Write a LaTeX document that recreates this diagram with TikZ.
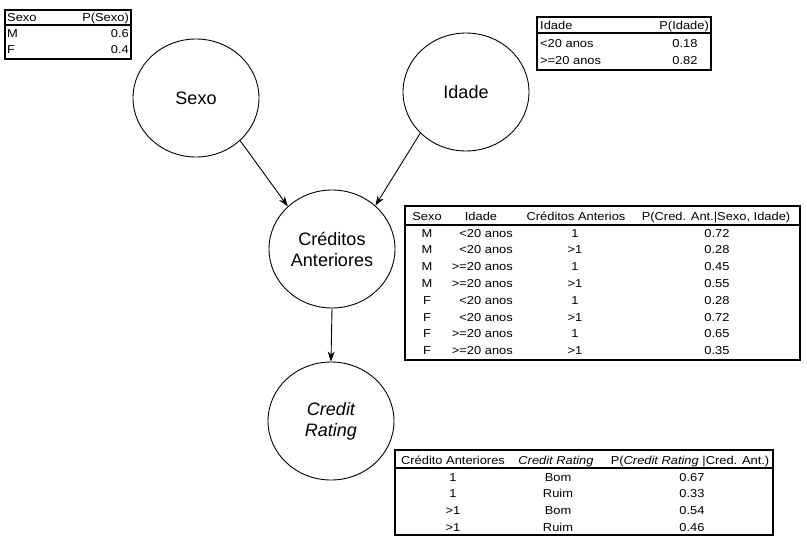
\documentclass[tikz,border=0pt]{standalone}
\usepackage{fontspec}
\setmainfont{Liberation Sans}
\newfontfamily\tabfont[FakeStretch=1.12]{Liberation Sans}
\usetikzlibrary{shapes.geometric,arrows.meta}
\begin{document}
\begin{tikzpicture}[x=1pt,y=-1pt,
  bnode/.style={draw,ellipse,line width=0.9pt,minimum width=126pt,minimum height=118pt,inner sep=0pt,align=center,font=\fontsize{18}{21}\selectfont},
  tbox/.style={draw,line width=1.6pt},
  sepline/.style={line width=2.4pt},
  tt/.style={font=\tabfont\fontsize{11.5}{13}\selectfont,inner sep=0pt,anchor=base},
  ttl/.style={tt,anchor=base west},
  ttr/.style={tt,anchor=base east},
  arr/.style={-{Stealth[length=10pt,width=7pt]},line width=0.9pt}]
\useasboundingbox (0,0) rectangle (807,549);

% nodes
\node[bnode] (sexo) at (196,98) {Sexo};
\node[bnode] (idade) at (466,92) {Idade};
\node[bnode] (cred) at (332,249) {Créditos\\Anteriores};
\node[bnode] (cr) at (331,421) {\itshape Credit\\\itshape Rating};

\draw[arr] (sexo.-44) -- (cred.136);
\draw[arr] (idade.-138) -- (cred.45);
\draw[arr] (cred.south) -- (cr.north);

% table 1
\draw[tbox] (5,10) rectangle (131,59);
\draw[sepline] (5,25) -- (131,25);
\node[ttl] (t1h1) at (7,21) {Sexo};
\node[ttr] (t1h2) at (129,21) {P(Sexo)};
\node[ttl] (t1a1) at (7,37.5) {M};
\node[ttr] (t1a2) at (129,37.5) {0.6};
\node[ttl] (t1b1) at (7,53) {F};
\node[ttr] (t1b2) at (129,53) {0.4};

% table 2
\draw[tbox] (537,17) rectangle (711,70);
\draw[sepline] (537,33) -- (711,33);
\node[ttl] (t2h1) at (540,29) {Idade};
\node[ttr] (t2h2) at (709,29) {P(Idade)};
\node[ttl] (t2a1) at (540,47.5) {<20 anos};
\node[tt] (t2a2) at (685,47.5) {0.18};
\node[ttl] (t2b1) at (540,64.5) {>=20 anos};
\node[tt] (t2b2) at (685,64.5) {0.82};

% table 3
\draw[tbox] (405,206) rectangle (800,360);
\draw[sepline] (405,225) -- (800,225);
\node[tt] (t3h1) at (427,220) {Sexo};
\node[tt] (t3h2) at (481,220) {Idade};
\node[tt] (t3h3) at (576,220) {Créditos Anterios};
\node[tt] (t3h4) at (716,220) {P(Cred. Ant.|Sexo, Idade)};
\foreach \s/\i/\c/\p [count=\k from 0] in {M/<20 anos/1/0.72, M/<20 anos/>1/0.28, M/>=20 anos/1/0.45, M/>=20 anos/>1/0.55, F/<20 anos/1/0.28, F/<20 anos/>1/0.72, F/>=20 anos/1/0.65, F/>=20 anos/>1/0.35}{
  \node[tt] (t3s\k) at (427,237+16.8*\k) {\s};
  \node[ttr] (t3i\k) at (513,237+16.8*\k) {\i};
  \node[tt] (t3c\k) at (575,237+16.8*\k) {\c};
  \node[tt] (t3p\k) at (717,237+16.8*\k) {\p};
}

% table 4
\draw[tbox] (395,450) rectangle (773,535);
\draw[sepline] (395,468) -- (773,468);
\node[tt] (t4h1) at (453,464) {Crédito Anteriores};
\node[tt] (t4h2) at (556,464) {\itshape Credit Rating};
\node[tt] (t4h3) at (690,464) {P(\textit{Credit Rating} |Cred. Ant.)};
\foreach \c/\r/\p [count=\k from 0] in {1/Bom/0.67, 1/Ruim/0.33, >1/Bom/0.54, >1/Ruim/0.46}{
  \node[tt] (t4c\k) at (453,481+16.8*\k) {\c};
  \node[tt] (t4r\k) at (558,481+16.8*\k) {\r};
  \node[tt] (t4p\k) at (692,481+16.8*\k) {\p};
}
\end{tikzpicture}
\end{document}
